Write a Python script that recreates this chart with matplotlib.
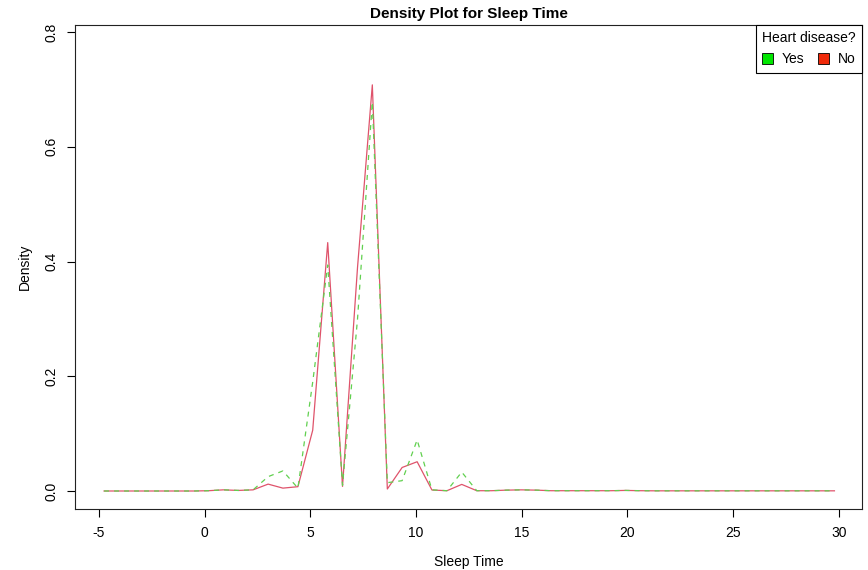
import matplotlib.pyplot as plt
from matplotlib.patches import Patch

plt.rcParams["font.family"] = ["Liberation Sans", "DejaVu Sans"]

# density grid (Sleep Time) and density estimates per group
sleep_time = [-4.76, -4.06, -3.35, -2.65, -1.94, -1.24, -0.53, 0.18, 0.88, 1.59,
              2.29, 3.00, 3.70, 4.41, 5.11, 5.82, 6.52, 7.23, 7.93, 8.64,
              9.34, 10.05, 10.75, 11.46, 12.16, 12.87, 13.57, 14.28, 14.98, 15.69,
              16.39, 17.10, 17.80, 18.51, 19.21, 19.92, 20.62, 21.33, 22.03, 22.74,
              23.44, 24.15, 24.85, 25.56, 26.26, 26.97, 27.67, 28.38, 29.08, 29.79]

density_no = [0.0, 0.0, 0.0, 0.0, 0.0, 0.0, 0.0, 0.0005, 0.002, 0.001,
              0.002, 0.012, 0.005, 0.0075, 0.106, 0.433, 0.008, 0.39, 0.708, 0.0035,
              0.041, 0.051, 0.0017, 0.0005, 0.0115, 0.0005, 0.0005, 0.0015, 0.002, 0.0015,
              0.0005, 0.0005, 0.0005, 0.0005, 0.0005, 0.001, 0.0005, 0.0003, 0.0003, 0.0003,
              0.0003, 0.0003, 0.0003, 0.0003, 0.0003, 0.0003, 0.0003, 0.0003, 0.0003, 0.0003]

density_yes = [0.0, 0.0, 0.0, 0.0, 0.0, 0.0, 0.0, 0.0005, 0.002, 0.001,
               0.002, 0.025, 0.035, 0.005, 0.19, 0.394, 0.010, 0.30, 0.678, 0.0145,
               0.018, 0.089, 0.002, 0.0005, 0.033, 0.0005, 0.0005, 0.0015, 0.002, 0.0015,
               0.0005, 0.0005, 0.0005, 0.0005, 0.0005, 0.001, 0.0005, 0.0003, 0.0003, 0.0003,
               0.0003, 0.0003, 0.0003, 0.0003, 0.0003, 0.0003, 0.0003, 0.0003, 0.0003, 0.0003]

x_ticks = [-5, 0, 5, 10, 15, 20, 25, 30]
y_ticks = [0.0, 0.2, 0.4, 0.6, 0.8]

NO_COLOR = "#DF536B"
YES_COLOR = "#61D04F"

fig = plt.figure(figsize=(8.68, 5.70), dpi=100)
ax = fig.add_axes([0.0864, 0.107, 0.9066, 0.849])

ax.plot(sleep_time, density_no, color=NO_COLOR, linewidth=0.9)
ax.plot(sleep_time, density_yes, color=YES_COLOR, linewidth=0.9, dashes=(4, 4))

ax.set_xlim(-6.135, 31.09)
ax.set_ylim(-0.0314, 0.8122)
ax.set_xticks(x_ticks)
ax.set_xticklabels([str(t) for t in x_ticks])
ax.set_yticks(y_ticks)
ax.set_yticklabels([f"{t:.1f}" for t in y_ticks], rotation=90, va="center")
ax.tick_params(direction="out", length=6, width=0.8, labelsize=10, pad=6)
for sp in ax.spines.values():
    sp.set_linewidth(0.8)
    sp.set_color("#222222")

ax.set_xlabel("Sleep Time", fontsize=10, labelpad=11)
ax.set_ylabel("Density", fontsize=10, labelpad=9)
ax.set_title("Density Plot for Sleep Time", fontsize=11, fontweight="bold", pad=5)

handles = [Patch(facecolor="#00E600", edgecolor="black", linewidth=0.6, label="Yes"),
           Patch(facecolor="#F02A0A", edgecolor="black", linewidth=0.6, label="No")]
leg = ax.legend(handles=handles, title="Heart disease?", ncol=2, loc="upper right",
                bbox_to_anchor=(1.0, 1.0), borderaxespad=0, fontsize=10,
                title_fontsize=10, fancybox=False, framealpha=1,
                handlelength=0.8, handleheight=0.8, handletextpad=0.6,
                columnspacing=1.0, borderpad=0.45)
leg.get_frame().set_edgecolor("black")
leg.get_frame().set_linewidth(0.8)

fig.savefig("out.png", dpi=100)
